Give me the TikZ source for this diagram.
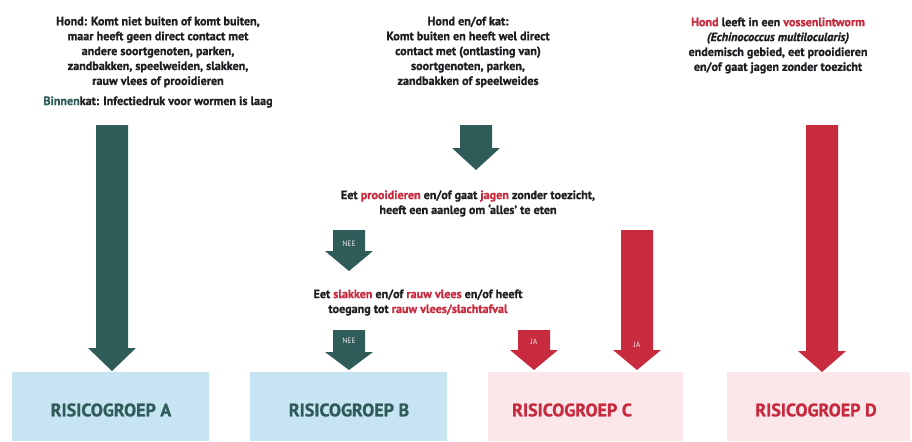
\documentclass[tikz,border=0pt]{standalone}
\usepackage{fontspec}
\setmainfont{PT Sans}[BoldFeatures={FakeBold=1.1},BoldItalicFeatures={FakeBold=1.1}]
\usetikzlibrary{calc}

\definecolor{TealDark}{HTML}{2F5B58}
\definecolor{RiskRed}{HTML}{C82A3E}
\definecolor{BoxBlue}{HTML}{C6E4F2}
\definecolor{BoxPink}{HTML}{FBE6EA}
\definecolor{TextDark}{HTML}{1E1E22}

\tikzset{
  infotext/.style={align=center, inner sep=0pt, text=TextDark,
    font=\bfseries\fontsize{8.6}{10.6}\selectfont},
  boxtext/.style={inner sep=0pt, font=\bfseries\fontsize{12.8}{14}\selectfont},
  arrowlabel/.style={inner sep=0pt, text=white!85!gray,
    font=\fontsize{5.5}{6}\selectfont}
}

% block arrow: colour, x, top, start of head, tip
\newcommand{\blockarrow}[5]{%
  \fill[#1] (#2-16,#3) -- (#2+16,#3) -- (#2+16,#4) -- (#2+24,#4)
    -- (#2,#5) -- (#2-24,#4) -- (#2-16,#4) -- cycle;}

\begin{document}
\begin{tikzpicture}[x=0.025cm,y=-0.025cm]
\useasboundingbox (0,0) rectangle (912,441);

% texts
\node[infotext] (condA) at (158,52) {Hond: Komt niet buiten of komt buiten,\\
  maar heeft geen direct contact met\\ andere soortgenoten, parken,\\
  zandbakken, speelweiden, slakken,\\ rauw vlees of prooidieren};
\node[infotext] (condCat) at (158,102) {{\color{TealDark}Binnen}kat: Infectiedruk voor wormen is laag};
\node[infotext] (condB) at (468,52) {Hond en/of kat:\\
  Komt buiten en heeft wel direct\\ contact met (ontlasting van)\\
  soortgenoten, parken,\\ zandbakken of speelweides};
\node[infotext] (condD) at (778,45.5) {{\color{RiskRed}Hond} leeft in een {\color{RiskRed}vossenlintworm}\\
  {\itshape (Echinococcus multilocularis)}\\ endemisch gebied, eet prooidieren\\
  en/of gaat jagen zonder toezicht};
\node[infotext] (qPrey) at (468,203.5) {Eet {\color{RiskRed}prooidieren} en/of gaat {\color{RiskRed}jagen} zonder toezicht,\\
  heeft een aanleg om ‘alles’ te eten};
\node[infotext] (qMeat) at (418,302.5) {Eet {\color{RiskRed}slakken} en/of {\color{RiskRed}rauw vlees} en/of heeft\\
  toegang tot {\color{RiskRed}rauw vlees/slachtafval}};

% risk groups
\fill[BoxBlue] (12,372) rectangle (209,441);
\fill[BoxBlue] (250,372) rectangle (447,441);
\fill[BoxPink] (488,372) rectangle (683,441);
\fill[BoxPink] (727,372) rectangle (910,441);
\node[boxtext, text=TealDark] (riskA) at (111,410) {RISICOGROEP A};
\node[boxtext, text=TealDark] (riskB) at (349,410) {RISICOGROEP B};
\node[boxtext, text=RiskRed] (riskC) at (572,410) {RISICOGROEP C};
\node[boxtext, text=RiskRed] (riskD) at (816,410) {RISICOGROEP D};

% arrows
\blockarrow{TealDark}{112}{125}{348}{371}
\blockarrow{TealDark}{476}{125}{148}{170}
\blockarrow{TealDark}{349}{230}{251}{271}
\blockarrow{TealDark}{349}{330}{352}{370}
\blockarrow{RiskRed}{534}{330}{350}{370}
\blockarrow{RiskRed}{637}{230}{350}{370}
\blockarrow{RiskRed}{822}{125}{351}{372}

\node[arrowlabel] (nee1) at (349,244) {NEE};
\node[arrowlabel] (nee2) at (349,341) {NEE};
\node[arrowlabel] (ja1) at (534,342) {JA};
\node[arrowlabel] (ja2) at (637,345) {JA};

\end{tikzpicture}
\end{document}
